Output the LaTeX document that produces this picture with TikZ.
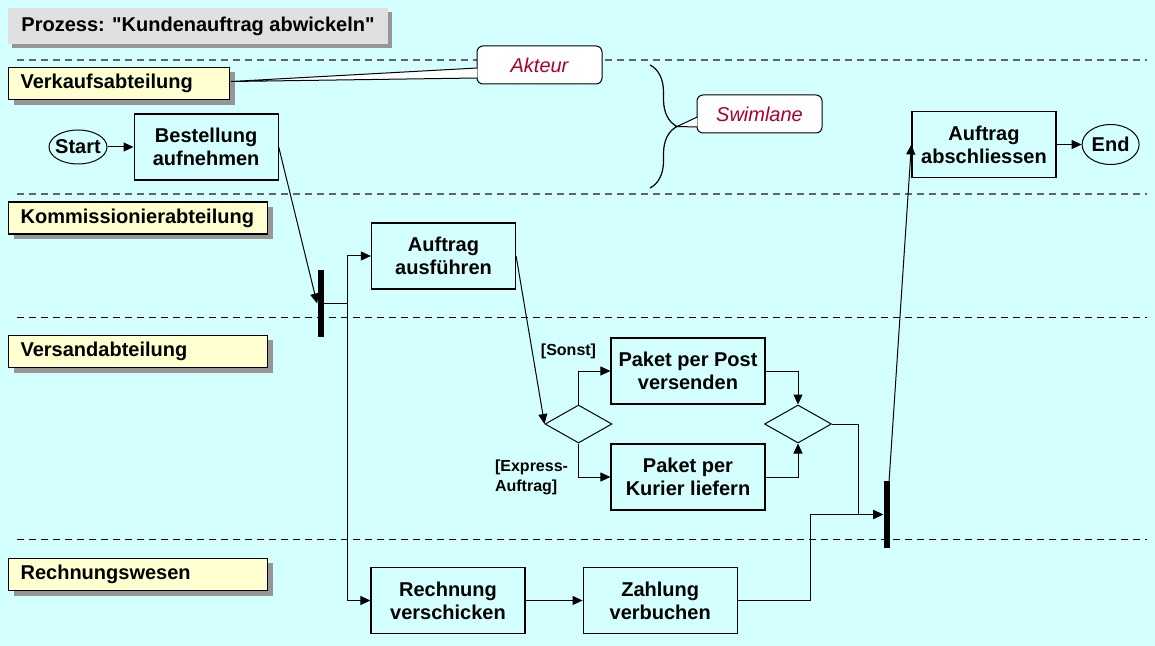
\documentclass[tikz,border=0pt]{standalone}
\usepackage{fontspec}
\setmainfont{Liberation Sans}[Ligatures=TeXOff]
\usetikzlibrary{shapes.geometric, arrows.meta, positioning, shadows, calc, decorations.pathreplacing}

\definecolor{hintergrund}{RGB}{212,255,255}
\definecolor{titelgrau}{RGB}{224,224,224}
\definecolor{schatten}{RGB}{150,150,150}
\definecolor{rollengelb}{RGB}{255,255,208}
\definecolor{hinweisrot}{RGB}{170,0,40}
\definecolor{trennergrau}{RGB}{100,100,100}

\begin{document}
\begin{tikzpicture}[x=0.5pt, y=-0.5pt,
						font=\bfseries\fontsize{10}{11.5}\selectfont,
						node distance = 13pt and 13pt, % Abstand vertikal und horizontal
						block/.style = {rectangle, draw, line width=0.6pt, text centered,
										minimum width=72pt, minimum height=33pt, align=center},
						wide/.style = {block, minimum width=77pt},
						terminal/.style = {ellipse, draw, line width=0.5pt, minimum width=29pt,
										minimum height=17pt, inner xsep=-1.5pt, inner ysep=0pt},
						entscheidung/.style = {diamond, draw, line width=0.5pt, minimum width=33.5pt,
											minimum height=19pt, inner sep=0pt},
						balken/.style = {rectangle, fill=black, minimum width=3pt,
										minimum height=33.5pt, inner sep=0pt},
						titel/.style = {rectangle, fill=titelgrau, minimum width=190pt, minimum height=18pt,
										drop shadow={shadow xshift=2pt, shadow yshift=-2pt, fill=schatten, opacity=1}},
						rolle/.style = {rectangle, draw, line width=0.6pt, fill=rollengelb, anchor=west,
										align=left, inner xsep=6pt, minimum height=14.5pt,
										drop shadow={shadow xshift=2.5pt, shadow yshift=-2.5pt, fill=schatten, opacity=1}},
						hinweis/.style = {rectangle, rounded corners=3pt, draw, fill=white, line width=0.5pt,
										minimum width=62.5pt, minimum height=19pt, text=hinweisrot,
										font=\itshape\mdseries\fontsize{10}{12}\selectfont},
						bedingung/.style = {font=\bfseries\fontsize{8}{10}\selectfont, inner sep=1pt, align=left},
						trenner/.style = {dash pattern=on 3.5pt off 2.5pt},
						line/.style = {-{Triangle[length=5pt, width=4.5pt]}, line width=0.5pt}
						]

						% --- Hintergrund ---
						\fill[hintergrund] (0,0) rectangle (1155,646);
						\useasboundingbox (0,0) rectangle (1155,646);

						% --- Bahnen ---
						\draw[trenner, draw=trennergrau, line width=0.7pt] (17,60) -- (1147,60);
						\draw[trenner, draw=trennergrau, line width=0.7pt] (17,194) -- (1147,194);
						\draw[trenner, line width=0.5pt] (17,318) -- (1147,318);
						\draw[trenner, line width=0.5pt] (17,539) -- (1147,539);

						\node[titel] (titel) at (198,26) {Prozess: "Kundenauftrag abwickeln"};
						\node[rolle, text width=98.5pt] (verkauf) at (8,83.5) {Verkaufsabteilung};
						\node[rolle, text width=117.5pt] (kommission) at (8,218) {Kommissionierabteilung};
						\node[rolle, text width=117.5pt] (versand) at (8,351.5) {Versandabteilung};
						\node[rolle, text width=117.5pt] (rechnungswesen) at (8,574.5) {Rechnungswesen};

						% --- Hinweise ---
						\node[hinweis] (akteur) at (539.5,65) {Akteur};
						\node[hinweis] (swimlane) at (759.5,114) {Swimlane};
						\draw[decorate, decoration={brace, amplitude=13.5pt}, line width=0.6pt] (650,65) -- (650,188);
						\coordinate (klammer) at (677,126.5);

						\coordinate (akteur_spitze) at ($(verkauf.east)+(1,-2)$);
						\coordinate (akteur_a) at ($(akteur.west)+(0.8,3)$);
						\coordinate (akteur_b) at ($(akteur.west)+(0.8,13)$);
						\fill[white] (akteur_spitze) -- (akteur_a) -- (akteur_b) -- cycle;
						\draw[line width=0.5pt] (akteur_a) -- (akteur_spitze) -- (akteur_b);

						\coordinate (swimlane_a) at ($(swimlane.west)+(0.8,3)$);
						\coordinate (swimlane_b) at ($(swimlane.west)+(0.8,13)$);
						\fill[white] (klammer) -- (swimlane_a) -- (swimlane_b) -- cycle;
						\draw[line width=0.5pt] (swimlane_a) -- (klammer) -- (swimlane_b);

						% --- Aktivitaeten ---
						\node[terminal] (start) at (78,147) {Start};
						\node[block, right=13pt of start] (bestellung) {Bestellung\\aufnehmen};
						\node[balken] (gabel) at (320.5,303.5) {};
						\node[block] (ausfuehren) at (443.5,256) {Auftrag\\ausführen};
						\node[entscheidung] (weiche) at (578.5,424) {};
						\node[wide] (post) at (688,371) {Paket per Post\\versenden};
						\node[wide] (kurier) at (688,477) {Paket per\\Kurier liefern};
						\node[entscheidung] (zusammen) at (798,424) {};
						\node[wide] (rechnung) at (448,600.5) {Rechnung\\verschicken};
						\node[wide, right=28.5pt of rechnung] (zahlung) {Zahlung\\verbuchen};
						\node[balken] (synchron) at (886.5,514.5) {};
						\node[block] (abschluss) at (984,144.5) {Auftrag\\abschliessen};
						\node[terminal, minimum width=28.5pt, minimum height=20pt, right=12.5pt of abschluss] (ende) {End};

						% --- Verbindungen ---
						\draw[line] (start) -- (bestellung);
						\draw[line] (bestellung.east) -- (gabel.west);
						\draw[line] (gabel.east) -- ++(24,0) coordinate (verteiler) |- (ausfuehren.west);
						\draw[line] (verteiler) |- (rechnung.west);
						\draw[line] (ausfuehren.east) -- (weiche.west);
						\draw[line] (weiche.north) |- node[bedingung, pos=0.5, above=5pt, xshift=-5pt] {[Sonst]} (post.west);
						\draw[line] (weiche.south) |- node[bedingung, pos=0.5, left=4pt] {[Express-\\Auftrag]} (kurier.west);
						\draw[line] (post.east) -| (zusammen.north);
						\draw[line] (kurier.east) -| (zusammen.south);
						\draw[line] (zusammen.east) -- ++(26,0) |- (synchron.west);
						\draw[line] (rechnung) -- (zahlung);
						\draw[line] (zahlung.east) -- ++(73,0) |- (synchron.west);
						\coordinate (synchron_aus) at ($(synchron.north)+(2,9)$);
						\draw[line] (synchron_aus) -- (abschluss.west);
						\draw[line] (abschluss) -- (ende);

					\end{tikzpicture}
\end{document}
